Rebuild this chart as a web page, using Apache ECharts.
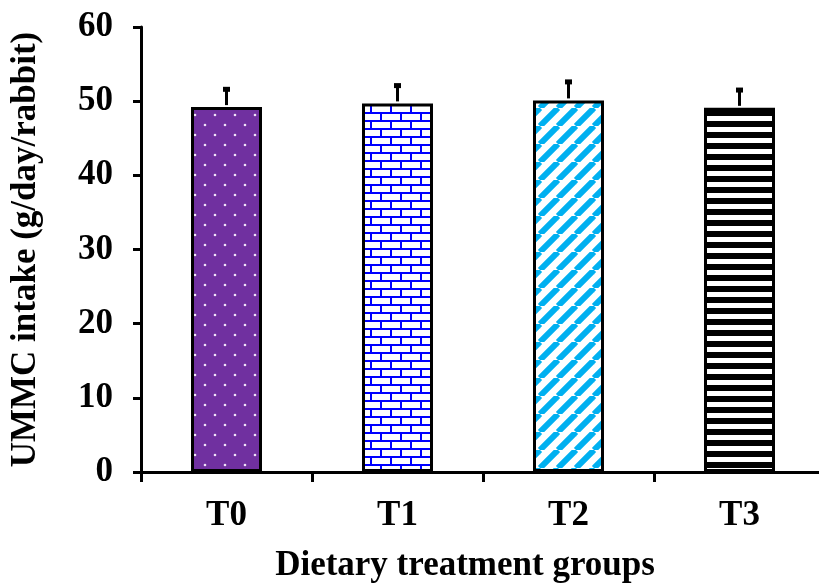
<!DOCTYPE html>
<html><head><meta charset="utf-8">
<script src="https://cdn.jsdelivr.net/npm/echarts@6/dist/echarts.min.js"></script>
<style>html,body{margin:0;padding:0;background:#fff}#c{width:819px;height:583px}</style>
</head><body><div id="c"></div>
<script>
var categories = ['T0', 'T1', 'T2', 'T3'];
var means = [49.2, 49.7, 50.1, 49.1];
var errors = [2.6, 2.6, 2.7, 2.6];
var yTicks = [0, 10, 20, 30, 40, 50, 60];

function mk(w, h, draw) {
  var c = document.createElement('canvas');
  c.width = w; c.height = h;
  draw(c.getContext('2d'), w, h);
  return c;
}
var dots = mk(20, 20, function (g, w, h) {
  g.fillStyle = '#7030A0'; g.fillRect(0, 0, w, h);
  g.fillStyle = '#F0E4F8';
  g.beginPath(); g.arc(5, 5, 1.3, 0, Math.PI * 2); g.fill();
  g.beginPath(); g.arc(15, 15, 1.3, 0, Math.PI * 2); g.fill();
});
var bricks = mk(20, 16, function (g, w, h) {
  g.fillStyle = '#fff'; g.fillRect(0, 0, w, h);
  g.fillStyle = '#0000FF';
  g.fillRect(0, 0, w, 2); g.fillRect(0, 8, w, 2);
  g.fillRect(0, 0, 2, 8); g.fillRect(10, 8, 2, 8);
});
var stripes = mk(18, 18, function (g, s) {
  g.fillStyle = '#fff'; g.fillRect(0, 0, s, s);
  g.strokeStyle = '#00B0F0'; g.lineWidth = 6;
  [-s, 0, s].forEach(function (k) {
    g.beginPath(); g.moveTo(k, s); g.lineTo(k + s, 0); g.stroke();
  });
});
var hstripes = mk(4, 11, function (g, w, h) {
  g.fillStyle = '#fff'; g.fillRect(0, 0, w, h);
  g.fillStyle = '#000'; g.fillRect(0, 0, w, 6);
});
var patterns = [dots, bricks, stripes, hstripes];

var font = 'Liberation Serif';
var chart = echarts.init(document.getElementById('c'));
chart.setOption({
  animation: false,
  grid: { left: 141, top: 27, width: 684, height: 445, outerBoundsMode: 'none', containLabel: false },
  xAxis: {
    type: 'category', data: categories,
    name: 'Dietary treatment groups', nameLocation: 'middle', nameGap: 76,
    nameTextStyle: { fontFamily: font, fontWeight: 'bold', fontSize: 35, color: '#000', padding: [0, 36, 0, 0] },
    axisLine: { lineStyle: { color: '#000', width: 3 } },
    axisTick: { show: true, length: 10, lineStyle: { color: '#000', width: 3 } },
    axisLabel: { fontFamily: font, fontWeight: 'bold', fontSize: 35, color: '#000', margin: 26 }
  },
  yAxis: {
    type: 'value', min: 0, max: 60, interval: 10,
    name: 'UMMC intake (g/day/rabbit)', nameLocation: 'middle', nameGap: 98, nameRotate: 90,
    nameTextStyle: { fontFamily: font, fontWeight: 'bold', fontSize: 35, color: '#000' },
    axisLine: { show: true, lineStyle: { color: '#000', width: 3 } },
    axisTick: { show: true, length: 8, lineStyle: { color: '#000', width: 3 } },
    splitLine: { show: false },
    axisLabel: {
      fontFamily: font, fontWeight: 'bold', fontSize: 35, color: '#000', margin: 28,
      formatter: function (v) { return yTicks.indexOf(v) >= 0 ? String(v) : ''; }
    }
  },
  series: [
    {
      type: 'bar', barWidth: 71,
      data: means.map(function (v, i) {
        return { value: v, itemStyle: { color: { image: patterns[i], repeat: 'repeat' } } };
      }),
      itemStyle: { borderColor: '#000', borderWidth: 3 }
    },
    {
      type: 'custom', z: 5,
      data: means.map(function (v, i) { return [i, v, v + errors[i]]; }),
      renderItem: function (params, api) {
        var p0 = api.coord([api.value(0), api.value(1)]);
        var p1 = api.coord([api.value(0), api.value(2)]);
        return {
          type: 'group', children: [
            { type: 'line', shape: { x1: p0[0], y1: p0[1] - 2, x2: p1[0], y2: p1[1] }, style: { stroke: '#000', lineWidth: 3 } },
            { type: 'rect', shape: { x: p1[0] - 3.5, y: p1[1] - 1, width: 7, height: 5 }, style: { fill: '#000' } }
          ]
        };
      }
    }
  ]
});
</script></body></html>
